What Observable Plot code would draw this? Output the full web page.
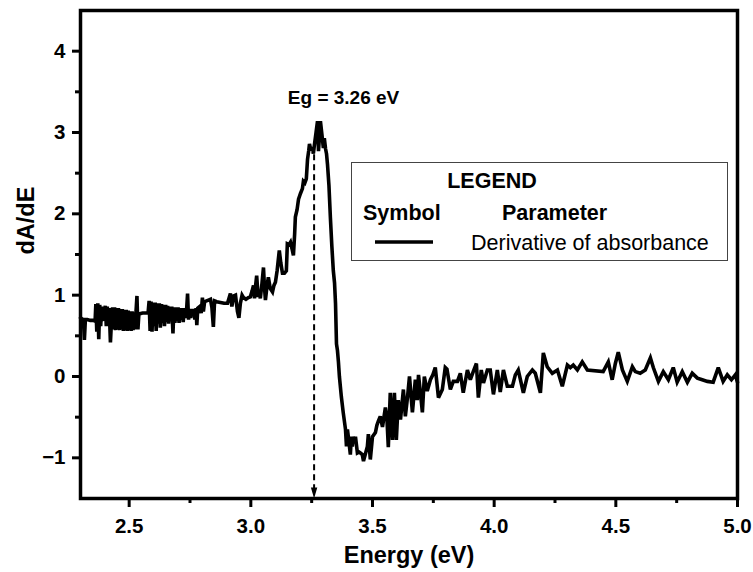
<!DOCTYPE html>
<html>
<head>
<meta charset="utf-8">
<script src="https://cdn.jsdelivr.net/npm/d3@7"></script>
<script src="https://cdn.jsdelivr.net/npm/@observablehq/plot@0.6"></script>
<style>
  html, body { margin: 0; padding: 0; background: #fff; }
  #wrap { position: relative; width: 753px; height: 572px; font-family: "Liberation Sans", Arial, sans-serif; }
  #legend { position: absolute; left: 351px; top: 162px; }
</style>
</head>
<body>
<div id="wrap"></div>
<script>
// ---- data ----
const energy = [
  2.300,2.306,2.312,2.316,2.320,2.328,2.340,2.352,2.360,2.363,2.367,2.371,2.375,2.379,2.383,2.387,2.391,2.398,2.402,2.406,2.410,2.414,2.418,2.423,2.428,
  2.432,2.436,2.440,2.444,2.448,2.452,2.456,2.460,2.464,2.468,2.472,2.476,2.480,2.484,2.488,2.492,2.496,2.500,2.504,2.508,2.512,2.516,2.520,2.524,2.528,2.532,2.536,2.540,2.555,2.570,2.578,
  2.582,2.586,2.590,2.594,2.598,2.603,2.607,2.611,2.615,2.620,2.624,2.628,2.633,2.637,2.641,2.645,2.650,2.654,2.658,2.662,2.667,2.671,2.675,2.680,2.684,
  2.688,2.692,2.697,2.701,2.705,2.710,2.714,2.718,2.722,2.727,2.731,2.736,2.740,2.744,2.749,2.753,2.757,2.762,2.766,2.770,2.775,2.778,2.782,2.790,2.796,2.801,2.805,2.810,2.818,2.826,2.834,2.840,2.846,2.851,2.860,2.875,2.890,2.904,2.910,2.916,2.922,2.929,2.937,2.945,2.951,2.957,2.964,2.970,2.980,2.990,2.998,
  3.005,3.011,3.015,3.019,3.024,3.030,3.035,3.039,3.046,3.052,3.056,3.060,3.066,3.072,3.080,3.089,3.095,3.101,3.108,3.117,3.123,3.130,3.138,3.146,3.150,3.157,3.163,3.170,3.175,3.180,3.183,3.190,3.196,3.204,3.212,3.216,3.222,3.228,3.233,3.238,3.241,3.247,3.253,3.257,3.261,3.268,3.274,3.278,3.282,3.286,3.292,3.298,3.302,3.307,3.311,3.315,3.321,3.327,3.333,3.339,3.344,3.348,3.352,3.356,3.360,3.364,3.372,3.380,3.389,3.393,3.397,3.403,3.409,3.413,3.417,3.421,3.426,3.430,3.438,3.445,3.450,3.458,3.463,3.471,3.479,3.483,3.491,3.500,
  3.512,3.518,3.524,3.532,3.541,3.553,3.559,3.565,3.573,3.582,3.590,3.598,3.606,3.615,3.627,3.635,3.644,3.652,3.664,3.676,3.684,3.689,3.697,3.705,3.713,3.725,3.738,3.748,3.758,3.771,3.787,3.799,3.806,3.820,3.832,3.849,3.861,3.873,3.890,3.902,3.914,3.927,3.935,3.947,3.956,3.972,3.984,3.997,
  4.013,4.025,4.038,4.054,4.075,4.087,4.099,4.120,4.136,4.157,4.169,4.190,4.202,4.218,4.239,4.260,4.280,4.301,4.313,4.325,4.342,4.362,4.383,4.448,4.469,4.485,4.498,
  4.510,4.527,4.547,4.568,4.580,4.600,4.621,4.642,4.654,4.675,4.695,4.716,4.736,4.752,4.773,4.794,4.814,4.835,4.855,4.876,4.900,4.921,4.941,4.958,4.975,4.991,5.000
];
const dAdE = [
  0.72,0.71,0.70,0.45,0.70,0.70,0.69,0.69,0.68,0.89,0.55,0.90,0.46,0.88,0.62,0.86,0.70,0.71,0.87,0.62,0.86,0.70,0.84,0.42,0.72,
  0.85,0.58,0.85,0.57,0.84,0.58,0.84,0.57,0.83,0.58,0.83,0.56,0.82,0.57,0.82,0.56,0.81,0.57,0.80,0.56,0.80,0.57,0.79,0.58,0.79,0.99,0.58,0.77,0.78,0.78,0.79,
  0.93,0.56,0.92,0.55,0.91,0.62,0.91,0.56,0.90,0.65,0.90,0.60,0.89,0.66,0.88,0.62,0.88,0.67,0.87,0.65,0.86,0.68,0.86,0.53,0.85,
  0.66,0.85,0.68,0.85,0.66,0.84,0.70,0.84,0.67,0.84,0.72,0.82,1.02,0.70,0.83,0.72,0.83,0.75,0.83,0.70,0.84,0.63,0.84,0.86,0.78,0.97,0.80,0.92,0.93,0.94,0.95,0.85,0.61,0.93,0.92,0.91,0.90,0.90,0.96,1.02,0.86,0.99,1.00,0.80,0.72,0.90,1.00,0.97,0.95,0.97,0.98,
  1.05,1.12,0.96,1.10,1.24,0.98,1.05,0.96,1.15,1.34,1.10,0.94,1.10,1.22,1.08,1.04,1.12,1.16,1.30,1.55,1.40,1.27,1.27,1.30,1.63,1.62,1.65,1.56,1.49,1.75,1.96,2.05,2.18,2.25,2.31,2.40,2.38,2.43,2.67,2.78,2.86,2.78,2.82,2.74,2.84,3.00,3.14,2.77,2.95,3.14,2.98,2.81,2.93,2.80,2.74,2.61,2.35,1.95,1.60,1.30,1.15,0.90,0.40,0.32,0.18,0.00,-0.25,-0.45,-0.65,-0.86,-0.65,-0.80,-0.96,-0.74,-0.86,-0.74,-0.82,-0.74,-0.94,-0.93,-0.94,-0.96,-1.04,-0.95,-0.86,-0.71,-1.02,-0.74,
  -0.69,-0.60,-0.55,-0.49,-0.62,-0.38,-0.50,-0.87,-0.20,-0.78,-0.20,-0.78,-0.29,-0.53,-0.16,-0.49,-0.25,0.00,-0.44,-0.04,-0.29,0.02,-0.20,-0.44,0.00,-0.18,-0.04,0.02,0.11,-0.26,-0.16,0.11,0.09,-0.16,-0.06,-0.06,0.04,-0.20,0.08,-0.04,0.06,0.16,-0.26,0.08,-0.08,0.08,0.08,-0.22,
  0.08,-0.19,0.08,-0.12,-0.12,0.02,0.08,-0.20,0.00,0.08,0.04,-0.20,0.29,0.12,0.04,0.08,-0.12,0.14,0.11,0.14,0.08,0.18,0.08,0.06,0.18,-0.04,0.16,
  0.30,0.08,-0.06,0.12,0.06,0.04,0.08,0.23,0.11,-0.06,0.06,-0.04,0.11,-0.07,0.06,-0.07,0.04,-0.02,-0.04,-0.06,-0.07,0.11,-0.06,0.02,-0.04,0.02,-0.07
];
const xMajorTicks = [2.5, 3.0, 3.5, 4.0, 4.5, 5.0];
const xMinorTicks = [2.75, 3.25, 3.75, 4.25, 4.75];
const yMajorTicks = [-1, 0, 1, 2, 3, 4];
const yMinorTicks = [-0.5, 0.5, 1.5, 2.5, 3.5];
const bandGap = 3.26;
const bandGapLabel = "Eg = 3.26 eV";
const xTitle = "Energy (eV)";
const yTitle = "dA/dE";
const legendTitle = "LEGEND";
const legendHeaders = ["Symbol", "Parameter"];
const seriesName = "Derivative of absorbance";

const data = energy.map((e, i) => ({E: e, v: dAdE[i]}));
const FONT = "'Liberation Sans', Arial, sans-serif";

const arrowHead = {
  draw(context) {
    context.moveTo(0, 5);
    context.lineTo(-3.2, -6);
    context.lineTo(3.2, -6);
    context.closePath();
  }
};

const chart = Plot.plot({
  width: 753,
  height: 572,
  marginLeft: 80,
  marginRight: 16,
  marginTop: 10,
  marginBottom: 74,
  style: {fontFamily: FONT, background: "#fff", color: "#000"},
  x: {domain: [2.3, 5.0]},
  y: {domain: [-1.5, 4.5]},
  marks: [
    Plot.axisX({ticks: xMajorTicks, tickSize: 9, tickPadding: 11, strokeWidth: 3,
      tickFormat: d3.format(".1f"), fontSize: 20.5, fontWeight: "bold", label: null}),
    Plot.axisX({ticks: xMinorTicks, tickSize: 5, strokeWidth: 3, tickFormat: () => "", label: null}),
    Plot.axisY({ticks: yMajorTicks, tickSize: 8, tickPadding: 7, strokeWidth: 3,
      tickFormat: d3.format("d"), fontSize: 20.5, fontWeight: "bold", label: null}),
    Plot.axisY({ticks: yMinorTicks, tickSize: 5, strokeWidth: 3, tickFormat: () => "", label: null}),
    Plot.ruleX([bandGap], {y1: 2.85, y2: -1.40, stroke: "#000", strokeWidth: 2, strokeDasharray: "6,4"}),
    Plot.dot([bandGap], {x: d => d, y: -1.5, symbol: arrowHead, r: 5, fill: "#000", stroke: "none", dy: -5}),
    Plot.line(data, {x: "E", y: "v", stroke: "#000", strokeWidth: 3.6, strokeLinejoin: "miter", strokeMiterlimit: 3}),
    Plot.frame({stroke: "#000", strokeWidth: 3.5}),
    Plot.text([bandGapLabel], {x: 3.381, y: 3.42, text: d => d, fontSize: 19, fontWeight: "bold",
      textAnchor: "middle", lineAnchor: "middle", fill: "#000"}),
    Plot.text([xTitle], {frameAnchor: "bottom", dy: 64, lineAnchor: "bottom", text: d => d,
      fontSize: 23.5, fontWeight: "bold", fill: "#000"}),
    Plot.text([yTitle], {frameAnchor: "left", dx: -47, rotate: -90, lineAnchor: "bottom", text: d => d,
      fontSize: 23.5, fontWeight: "bold", fill: "#000"})
  ]
});

const wrap = document.getElementById("wrap");
wrap.appendChild(chart);

// legend box (drawn inside the plot area)
const lg = d3.select(wrap).append("svg")
  .attr("id", "legend")
  .attr("width", 378).attr("height", 100)
  .style("font-family", FONT);
lg.append("rect").attr("x", 0.5).attr("y", 0.5).attr("width", 376).attr("height", 98)
  .attr("fill", "#fff").attr("stroke", "#444").attr("stroke-width", 1);
lg.append("text").attr("x", 141).attr("y", 26).attr("text-anchor", "middle")
  .attr("font-size", 21.5).attr("font-weight", "bold").text(legendTitle);
lg.append("text").attr("x", 12).attr("y", 58).attr("font-size", 21.5).attr("font-weight", "bold").text(legendHeaders[0]);
lg.append("text").attr("x", 151).attr("y", 58).attr("font-size", 21.5).attr("font-weight", "bold").text(legendHeaders[1]);
lg.append("line").attr("x1", 24).attr("x2", 82).attr("y1", 80).attr("y2", 80)
  .attr("stroke", "#000").attr("stroke-width", 3.5);
lg.append("text").attr("x", 120).attr("y", 88).attr("font-size", 21.5).text(seriesName);
</script>
</body>
</html>
